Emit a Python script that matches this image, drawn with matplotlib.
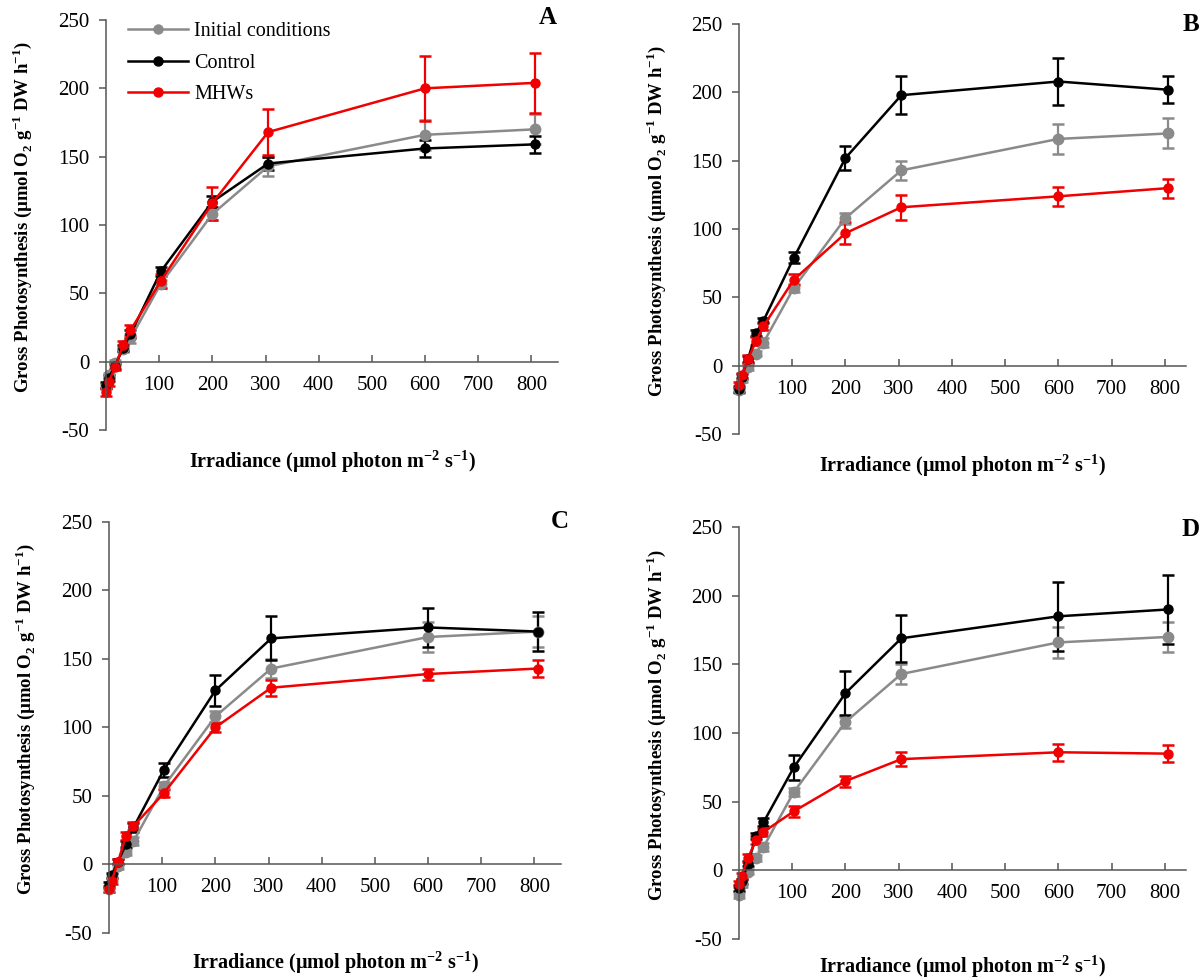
import matplotlib
matplotlib.use("Agg")
import matplotlib.pyplot as plt
from matplotlib.lines import Line2D

plt.rcParams["font.family"] = ["Liberation Serif", "DejaVu Serif"]
plt.rcParams["mathtext.fontset"] = "custom"
plt.rcParams["mathtext.rm"] = "Liberation Serif"
plt.rcParams["mathtext.bf"] = "Liberation Serif:bold"
plt.rcParams["axes.unicode_minus"] = False

# irradiance steps (µmol photon m-2 s-1)
irr = [0, 5, 17, 32, 46, 103, 200, 305, 600, 806]

# initial conditions, shared by all panels
init_mean = [-18, -10, -1, 9, 17, 57, 108, 143, 166, 170]
init_err = [2, 2, 2, 2, 3, 3, 4, 7, 11, 11]

ctrl_A = [-17, -12, -3, 10, 20, 66, 117, 145, 156, 159]
ctrl_A_err = [2, 2, 2, 2, 3, 3, 4, 5, 6, 6]
mhw_A = [-22, -15, -4, 12, 23, 59, 116, 168, 200, 204]
mhw_A_err = [3, 3, 2, 3, 4, 5, 12, 17, 24, 22]

ctrl_B = [-17, -8, 5, 24, 33, 79, 152, 198, 208, 202]
ctrl_B_err = [2, 2, 2, 2, 2, 4, 9, 14, 17, 10]
mhw_B = [-14, -7, 5, 18, 29, 63, 97, 116, 124, 130]
mhw_B_err = [2, 2, 3, 3, 3, 4, 8, 9, 7, 7]

ctrl_C = [-15, -8, 2, 15, 27, 69, 127, 165, 173, 170]
ctrl_C_err = [2, 2, 2, 2, 3, 5, 11, 16, 14, 14]
mhw_C = [-18, -12, 2, 21, 28, 52, 100, 129, 139, 143]
mhw_C_err = [2, 2, 2, 3, 3, 3, 3, 6, 4, 6]

ctrl_D = [-13, -8, 5, 25, 35, 75, 129, 169, 185, 190]
ctrl_D_err = [2, 2, 2, 2, 3, 9, 16, 17, 25, 25]
mhw_D = [-10, -4, 9, 22, 28, 43, 65, 81, 86, 85]
mhw_D_err = [2, 2, 3, 3, 3, 4, 4, 5, 6, 6]

panels = [
    ("A", ctrl_A, ctrl_A_err, mhw_A, mhw_A_err),
    ("B", ctrl_B, ctrl_B_err, mhw_B, mhw_B_err),
    ("C", ctrl_C, ctrl_C_err, mhw_C, mhw_C_err),
    ("D", ctrl_D, ctrl_D_err, mhw_D, mhw_D_err),
]

# axes boxes in figure fraction: left, bottom, width, height
boxes = {
    "A": [0.0882, 0.5612, 0.376, 0.4184],
    "B": [0.6148, 0.5570, 0.372, 0.4184],
    "C": [0.0907, 0.0480, 0.376, 0.4194],
    "D": [0.6148, 0.0418, 0.372, 0.4204],
}
xmax = {"A": 850, "B": 840, "C": 850, "D": 840}
letter_pos = {"A": (0.978, 1.005), "B": (1.01, 0.998), "C": (0.998, 1.0), "D": (1.01, 0.993)}
xlabel_y = {"A": -0.078, "B": -0.076, "C": -0.072, "D": -0.066}

GREY = "#8a8a8a"
RED = "#f00000"
SPINE = "#555555"

fig = plt.figure(figsize=(12.02, 9.8), dpi=100)

for name, ctrl, ctrl_err, mhw, mhw_err in panels:
    ax = fig.add_axes(boxes[name])
    series = [
        ("Initial conditions", init_mean, init_err, GREY, 7.5),
        ("Control", ctrl, ctrl_err, "black", 6.5),
        ("MHWs", mhw, mhw_err, RED, 6.5),
    ]
    handles = []
    for lbl, y, e, c, ms in series:
        ax.errorbar(irr, y, yerr=e, color=c, lw=1.8, marker="o", ms=ms,
                    elinewidth=1.6, capsize=4, capthick=1.8, clip_on=False)
        handles.append(Line2D([], [], color=c, lw=1.8, marker="o", ms=6.5, label=lbl))

    ax.set_xlim(0, xmax[name])
    ax.set_ylim(-50, 250)
    ax.set_xticks([100, 200, 300, 400, 500, 600, 700, 800])
    ax.set_yticks([-50, 0, 50, 100, 150, 200, 250])
    ax.spines["bottom"].set_position(("data", 0))
    ax.spines["top"].set_visible(False)
    ax.spines["right"].set_visible(False)
    for s in ("left", "bottom"):
        ax.spines[s].set_color(SPINE)
        ax.spines[s].set_linewidth(1.1)
    ax.tick_params(axis="x", direction="in", length=5, width=1.1, color=SPINE,
                   labelsize=15, pad=10)
    ax.tick_params(axis="y", direction="out", length=5, width=1.1, color=SPINE,
                   labelsize=15, pad=7)

    ax.set_ylabel(r"Gross Photosynthesis (µmol O$_\mathbf{2}$ g$^\mathbf{-1}$ DW h$^\mathbf{-1}$)",
                  fontsize=13.5, fontweight="bold")
    ax.set_xlabel(r"Irradiance (µmol photon m$^\mathbf{-2}$ s$^\mathbf{-1}$)",
                  fontsize=14.5, fontweight="bold")
    ax.yaxis.set_label_coords(-0.186, 0.52)
    ax.yaxis.label.set_verticalalignment("center")
    ax.xaxis.set_label_coords(0.5, xlabel_y[name])
    ax.xaxis.label.set_verticalalignment("center")

    lx, ly = letter_pos[name]
    ax.text(lx, ly, name, transform=ax.transAxes, ha="center", va="center",
            fontsize=18, fontweight="bold")

    if name == "A":
        ax.legend(handles=handles, loc="upper left", bbox_to_anchor=(0.03, 1.015),
                  frameon=False, fontsize=14.5, handlelength=3.0, handletextpad=0.3,
                  labelspacing=0.62, borderaxespad=0)

fig.savefig("out.png", dpi=100)
